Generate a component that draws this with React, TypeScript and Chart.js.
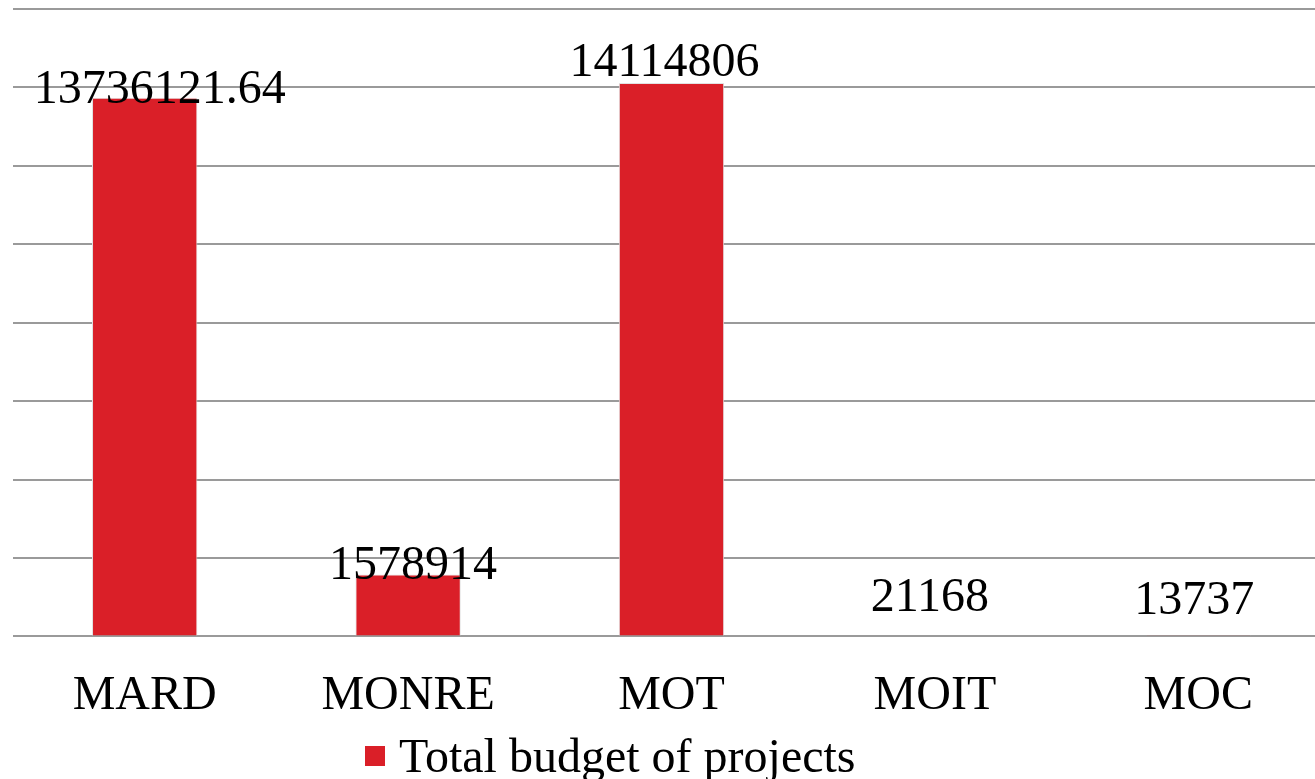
import React, { useEffect, useRef } from "react";
import { Chart, registerables } from "chart.js";

Chart.register(...registerables);

const categories = ["MARD", "MONRE", "MOT", "MOIT", "MOC"];
const budgetValues = [13736121.64, 1578914, 14114806, 21168, 13737];
const valueLabels = ["13736121.64", "1578914", "14114806", "21168", "13737"];
const seriesName = "Total budget of projects";

const FONT = "'Liberation Serif', 'Times New Roman', serif";
const RED = "#DA1F28";

const valueLabelPlugin = {
  id: "valueLabels",
  afterDatasetsDraw(chart: any, _args: any, opts: any) {
    const { ctx } = chart;
    const meta = chart.getDatasetMeta(0);
    ctx.save();
    ctx.font = `48px ${FONT}`;
    ctx.fillStyle = "#000";
    ctx.textAlign = "center";
    ctx.textBaseline = "alphabetic";
    meta.data.forEach((bar: any, i: number) => {
      const dy = opts.dy ? opts.dy[i] : 0;
      const dx = opts.dx ? opts.dx[i] : 0;
      ctx.fillText(valueLabels[i], bar.x + dx, bar.y + dy);
    });
    ctx.restore();
  },
};

const customLegendPlugin = {
  id: "customLegend",
  afterDraw(chart: any, _args: any, opts: any) {
    const { ctx } = chart;
    ctx.save();
    ctx.fillStyle = RED;
    ctx.fillRect(opts.x, opts.boxTop, 20, 20);
    ctx.fillStyle = "#000";
    ctx.font = `48px ${FONT}`;
    ctx.textAlign = "left";
    ctx.textBaseline = "alphabetic";
    ctx.fillText(seriesName, opts.x + 34, opts.baseline);
    ctx.restore();
  },
};

export default function App() {
  const ref = useRef<HTMLCanvasElement | null>(null);

  useEffect(() => {
    if (!ref.current) return;
    const chart = new Chart(ref.current, {
      type: "bar",
      data: {
        labels: categories,
        datasets: [
          {
            label: seriesName,
            data: budgetValues,
            backgroundColor: RED,
            borderColor: "#e2e2e2",
            borderWidth: 1,
            categoryPercentage: 1,
            barPercentage: 0.4,
          },
        ],
      },
      options: {
        animation: false,
        responsive: false,
        maintainAspectRatio: false,
        layout: { padding: { left: 13, top: 9, right: 0, bottom: 23 } },
        plugins: {
          tooltip: { enabled: false },
          legend: { display: false },
          valueLabels: {
            dy: [5, 5, -7, -25, -22],
            dx: [15, 5, -7, -5, -4],
          },
          customLegend: { x: 365, boxTop: 746, baseline: 772 },
        } as any,
        scales: {
          x: {
            grid: { display: false, drawTicks: false },
            border: { display: false },
            ticks: {
              font: { family: FONT, size: 48 },
              color: "#000",
              padding: 31,
            },
          },
          y: {
            min: 0,
            max: 16000000,
            ticks: { display: false, stepSize: 2000000 },
            grid: { color: "#9a9a9a", lineWidth: 2, drawTicks: false },
            border: { display: false },
          },
        },
      },
      plugins: [valueLabelPlugin, customLegendPlugin],
    });
    return () => chart.destroy();
  }, []);

  return (
    <div
      style={{
        position: "fixed",
        left: 0,
        top: 0,
        width: 1315,
        height: 779,
        overflow: "hidden",
        background: "#fff",
      }}
    >
      <canvas ref={ref} width={1330} height={779} style={{ width: 1330, height: 779 }} />
    </div>
  );
}
